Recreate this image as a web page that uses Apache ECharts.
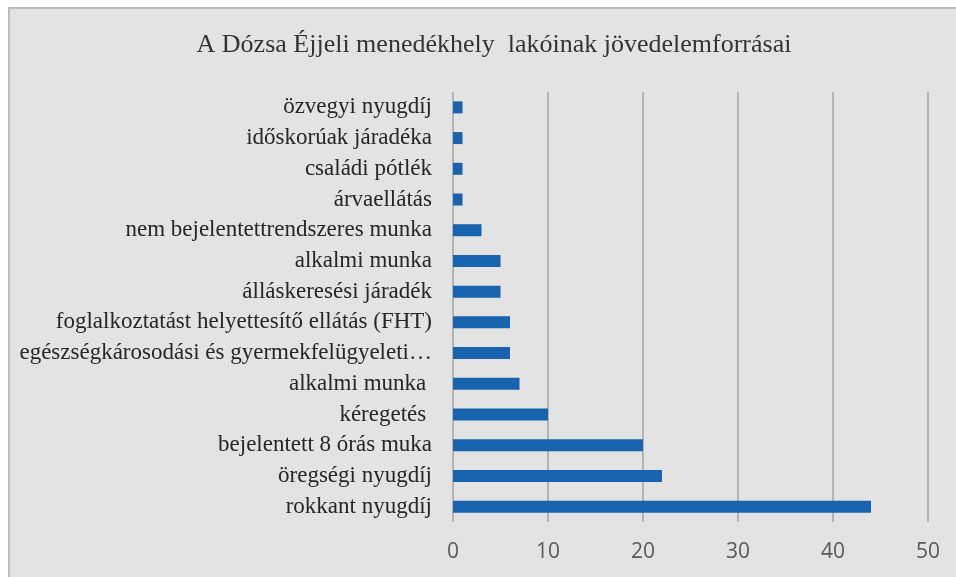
<!DOCTYPE html>
<html>
<head>
<meta charset="utf-8">
<script src="https://cdn.jsdelivr.net/npm/echarts@6/dist/echarts.min.js"></script>
<style>
    html, body {
        margin: 0;
        padding: 0;
        background: #ffffff;
        overflow: hidden;
    }
    .frame {
        position: absolute;
        left: 8px;
        top: 7px;
        width: 1000px;
        height: 620px;
        background: #e3e3e3;
        border-left: 2px solid #bcbcbc;
        border-top: 2px solid #bcbcbc;
    }
    .echart {
        position: absolute;
        left: 0;
        top: 0;
        width: 956px;
        height: 577px;
    }
</style>
</head>
<body>
<div class="frame"></div>
<div class="echart" id="echart"></div>
<script>
// kategóriák fentről lefelé, ahogy a képen
const categories = [
    'özvegyi nyugdíj',
    'időskorúak járadéka',
    'családi pótlék',
    'árvaellátás',
    'nem bejelentettrendszeres munka',
    'alkalmi munka',
    'álláskeresési járadék',
    'foglalkoztatást helyettesítő ellátás (FHT)',
    'egészségkárosodási és gyermekfelügyeleti…',
    'alkalmi munka ',
    'kéregetés ',
    'bejelentett 8 órás muka',
    'öregségi nyugdíj',
    'rokkant nyugdíj'
]
const values = [1, 1, 1, 1, 3, 5, 5, 6, 6, 7, 10, 20, 22, 44]
const xTicks = [0, 10, 20, 30, 40, 50]

const myChart = echarts.init(document.getElementById('echart'))

const option = {
    backgroundColor: 'transparent',
    animation: false,
    title: {
        text: 'A Dózsa Éjjeli menedékhely  lakóinak jövedelemforrásai',
        left: 489,
        top: 27,
        textAlign: 'center',
        textStyle: {
            fontFamily: 'Liberation Serif',
            fontSize: 26,
            fontWeight: 'normal',
            color: '#333333'
        }
    },
    grid: {
        left: 453,
        right: 28,
        top: 92,
        bottom: 55
    },
    xAxis: {
        type: 'value',
        min: xTicks[0],
        max: xTicks[xTicks.length - 1],
        interval: 10,
        axisLine: { show: false },
        axisTick: { show: false },
        axisLabel: {
            margin: 20,
            fontFamily: 'Open Sans',
            fontSize: 21,
            color: '#595959'
        },
        splitLine: {
            show: true,
            lineStyle: { color: '#b3b3b3', width: 2 }
        }
    },
    yAxis: {
        type: 'category',
        data: categories,
        inverse: true,
        axisLine: { show: false },
        axisTick: { show: false },
        axisLabel: {
            margin: 21,
            fontFamily: 'Liberation Serif',
            fontSize: 23,
            color: '#262626'
        }
    },
    series: [
        {
            type: 'bar',
            data: values,
            barWidth: 12,
            itemStyle: { color: '#1863ae' }
        }
    ]
}

myChart.setOption(option)
</script>
</body>
</html>
